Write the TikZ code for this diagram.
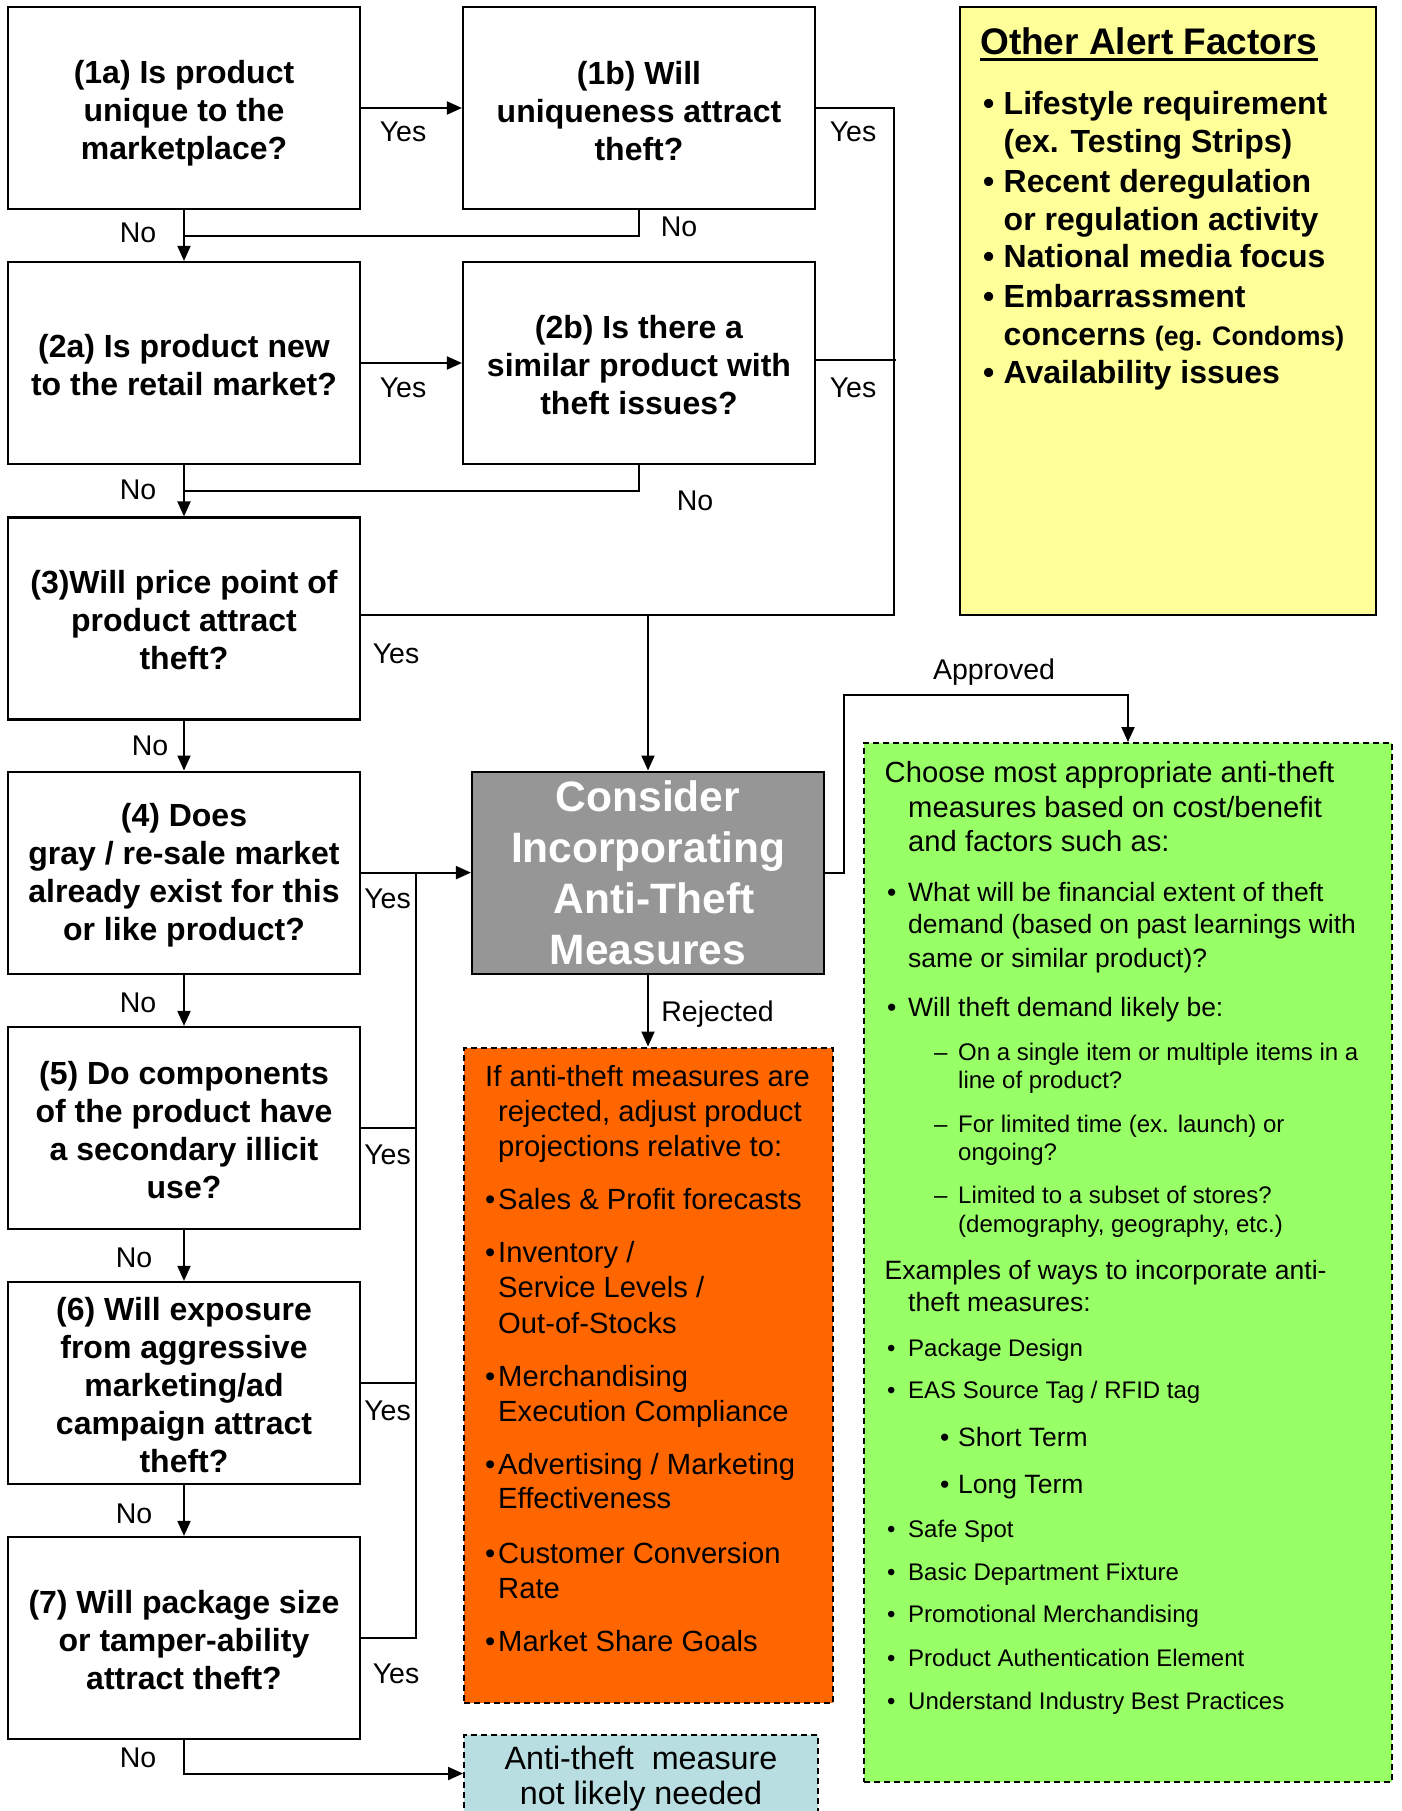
\documentclass[tikz,border=0pt]{standalone}
\usepackage{fontspec}
\setmainfont{Liberation Sans}
\usetikzlibrary{arrows.meta}
\definecolor{cgray}{RGB}{150,150,150}
\definecolor{corange}{RGB}{255,102,0}
\definecolor{cgreen}{RGB}{153,255,102}
\definecolor{cyel}{RGB}{255,255,153}
\definecolor{ccyan}{RGB}{184,222,226}
\begin{document}
\begin{tikzpicture}[x=1pt,y=-1pt,
  qbox/.style={draw, line width=2.2pt, fill=white, minimum width=352pt, minimum height=202pt, inner sep=0pt},
  qtxt/.style={inner sep=0pt, align=center, font=\fontsize{32}{38}\selectfont\bfseries},
  dbox/.style={draw, line width=2pt, dash pattern=on 6pt off 4pt, inner sep=0pt},
  lab/.style={font=\fontsize{28.5}{34}\selectfont, inner sep=0pt, text height=20pt, text depth=0pt},
  ln/.style={line width=2pt},
  arr/.style={ln, -{Triangle[length=15pt,width=13pt]}},
  tx/.style={anchor=west, inner sep=0pt, text depth=0pt},
  oT/.style={tx, font=\fontsize{29.2}{35}\selectfont, text height=19pt},
  gA/.style={tx, font=\fontsize{29.2}{35}\selectfont, text height=19pt},
  gB/.style={tx, font=\fontsize{26.5}{32}\selectfont, text height=17.3pt},
  gC/.style={tx, font=\fontsize{24}{29}\selectfont, text height=15.6pt},
  yT/.style={tx, font=\fontsize{32}{38}\selectfont\bfseries, text height=21pt}
]
\useasboundingbox (0,0) rectangle (1401,1811);
\fill[white] (0,0) rectangle (1401,1811);

% question boxes
\node[qbox] (b1a) at (184,108) {};
\node[qbox] (b1b) at (639,108) {};
\node[qbox] (b2a) at (184,363) {};
\node[qbox] (b2b) at (639,363) {};
\node[qbox] (b3) at (184,618.5) {};
\node[qbox] (b4) at (184,872.6) {};
\node[qbox] (b5) at (184,1128) {};
\node[qbox] (b6) at (184,1383) {};
\node[qbox] (b7) at (184,1638) {};
\node[qtxt] (t1a) at ([yshift=-5pt]b1a.center) {(1a) Is product\\unique to the\\marketplace?};
\node[qtxt] (t1b) at ([yshift=-3pt]b1b.center) {(1b) Will\\uniqueness attract\\theft?};
\node[qtxt] (t2a) at ([yshift=-2pt]b2a.center) {(2a) Is product new\\to the retail market?};
\node[qtxt] (t2b) at ([yshift=-2.5pt]b2b.center) {(2b) Is there a\\similar product with\\theft issues?};
\node[qtxt] (t3) at ([yshift=-2pt]b3.center) {(3)Will price point of\\product attract\\theft?};
\node[qtxt] (t4) at ([yshift=-3pt]b4.center) {(4) Does\\gray / re-sale market\\already exist for this\\or like product?};
\node[qtxt] (t5) at ([yshift=-2pt]b5.center) {(5) Do components\\of the product have\\a secondary illicit\\use?};
\node[qtxt] (t6) at ([yshift=-2.5pt]b6.center) {(6) Will exposure\\from aggressive\\marketing/ad\\campaign attract\\theft?};
\node[qtxt] (t7) at ([yshift=-2.5pt]b7.center) {(7) Will package size\\or tamper-ability\\attract theft?};

% consider box
\node[draw, line width=2.2pt, fill=cgray, text=white, minimum width=352pt, minimum height=202pt, inner sep=0pt, align=center, font=\fontsize{42.5}{51}\selectfont\bfseries] (cons) at (648,872.6) {Consider\\Incorporating\\\hspace*{12pt}Anti-Theft\\Measures};

% outcome boxes
\node[dbox, fill=corange, minimum width=369pt, minimum height=655pt] (reject) at (648.5,1375) {};
\node[dbox, fill=ccyan, minimum width=354pt, minimum height=115pt] (none) at (641,1792.5) {};
\node[dbox, fill=cgreen, minimum width=528pt, minimum height=1039pt] (choose) at (1128,1262.5) {};
\node[draw, line width=2pt, fill=cyel, minimum width=416pt, minimum height=607.5pt, inner sep=0pt] (alert) at (1168,310.75) {};

% cyan text
\node[align=center, inner sep=0pt, font=\fontsize{32.3}{35}\selectfont] (nonetxt) at (641,1779) {Anti-theft\ \ measure\\not likely needed};

% orange text
\node[oT] (o1) at (485,1077) {If anti-theft measures are};
\node[oT] (o2) at (498,1112) {rejected, adjust product};
\node[oT] (o3) at (498,1147) {projections relative to:};
\node[oT] (o4b) at (485,1200) {•};
\node[oT] (o4) at (498,1200) {Sales \& Profit forecasts};
\node[oT] (o5b) at (485,1253) {•};
\node[oT] (o5) at (498,1253) {Inventory /};
\node[oT] (o6) at (498,1288) {Service Levels /};
\node[oT] (o7) at (498,1324) {Out-of-Stocks};
\node[oT] (o8b) at (485,1377) {•};
\node[oT] (o8) at (498,1377) {Merchandising};
\node[oT] (o9) at (498,1411.5) {Execution Compliance};
\node[oT] (o10b) at (485,1464.5) {•};
\node[oT] (o10) at (498,1464.5) {Advertising / Marketing};
\node[oT] (o11) at (498,1499) {Effectiveness};
\node[oT] (o12b) at (485,1553.5) {•};
\node[oT] (o12) at (498,1553.5) {Customer Conversion};
\node[oT] (o13) at (498,1589) {Rate};
\node[oT] (o14b) at (485,1641.5) {•};
\node[oT] (o14) at (498,1641.5) {Market Share Goals};

% green text
\node[gA] (g1) at (884.5,772.5) {Choose most appropriate anti-theft};
\node[gA] (g2) at (908,807.5) {measures based on cost/benefit};
\node[gA] (g3) at (908,842) {and factors such as:};
\node[gB] (g4b) at (887,893) {•};
\node[gB] (g4) at (908,893) {What will be financial extent of theft};
\node[gB] (g5) at (908,925) {demand (based on past learnings with};
\node[gB] (g6) at (908,958.5) {same or similar product)?};
\node[gB] (g7b) at (887,1008) {•};
\node[gB] (g7) at (908,1008) {Will theft demand likely be:};
\node[gC] (g8b) at (934,1053) {–};
\node[gC] (g8) at (958,1053) {On a single item or multiple items in a};
\node[gC] (g9) at (958,1081) {line of product?};
\node[gC] (g10b) at (934,1124.5) {–};
\node[gC] (g10) at (958,1124.5) {For limited time (ex. launch) or};
\node[gC] (g11) at (958,1153) {ongoing?};
\node[gC] (g12b) at (934,1195.5) {–};
\node[gC] (g12) at (958,1195.5) {Limited to a subset of stores?};
\node[gC] (g13) at (958,1224.5) {(demography, geography, etc.)};
\node[gB] (g14) at (884.5,1270.5) {Examples of ways to incorporate anti-};
\node[gB] (g15) at (908,1302.5) {theft measures:};
\node[gC] (g16b) at (887,1348.5) {•};
\node[gC] (g16) at (908,1348.5) {Package Design};
\node[gC] (g17b) at (887,1391) {•};
\node[gC] (g17) at (908,1391) {EAS Source Tag / RFID tag};
\node[gB] (g18b) at (940,1437.5) {•};
\node[gB] (g18) at (958,1437.5) {Short Term};
\node[gB] (g19b) at (940,1485) {•};
\node[gB] (g19) at (958,1485) {Long Term};
\node[gC] (g20b) at (887,1530) {•};
\node[gC] (g20) at (908,1530) {Safe Spot};
\node[gC] (g21b) at (887,1572.5) {•};
\node[gC] (g21) at (908,1572.5) {Basic Department Fixture};
\node[gC] (g22b) at (887,1615) {•};
\node[gC] (g22) at (908,1615) {Promotional Merchandising};
\node[gC] (g23b) at (887,1658.5) {•};
\node[gC] (g23) at (908,1658.5) {Product Authentication Element};
\node[gC] (g24b) at (887,1701.5) {•};
\node[gC] (g24) at (908,1701.5) {Understand Industry Best Practices};

% yellow text
\node[tx, font=\fontsize{37}{44}\selectfont\bfseries, text height=24pt] (yt) at (980,43) {Other Alert Factors};
\draw[line width=2.5pt] ([yshift=-4.3pt]yt.base west) -- ([yshift=-4.3pt]yt.base east);
\node[yT] (y1b) at (983,104.5) {•};
\node[yT] (y1) at (1003.5,104.5) {Lifestyle requirement};
\node[yT] (y2) at (1003.5,142.5) {(ex. Testing Strips)};
\node[yT] (y3b) at (983,182) {•};
\node[yT] (y3) at (1003.5,182) {Recent deregulation};
\node[yT] (y4) at (1003.5,220) {or regulation activity};
\node[yT] (y5b) at (983,257.5) {•};
\node[yT] (y5) at (1003.5,257.5) {National media focus};
\node[yT] (y6b) at (983,296.5) {•};
\node[yT] (y6) at (1003.5,296.5) {Embarrassment};
\node[yT] (y7) at (1003.5,335) {concerns {\fontsize{26.7}{32}\selectfont (eg. Condoms)}};
\node[yT] (y8b) at (983,373) {•};
\node[yT] (y8) at (1003.5,373) {Availability issues};

% connectors
\coordinate (tr1) at (894,108);
\coordinate (tr3) at (894,614.6);
\coordinate (n1) at (184,235.6);
\coordinate (n2) at (184,491);
\coordinate (cl) at (416,872.6);
\coordinate (a1) at (844,694.6);
\coordinate (c7) at (184,1773.5);

\draw[arr] (b1a.east) -- (b1b.west);
\draw[arr] (b2a.east) -- (b2b.west);
\draw[arr] (b1a.south) -- (b2a.north);
\draw[arr] (b2a.south) -- (b3.north);
\draw[arr] (b3.south) -- (b4.north);
\draw[arr] (b4.south) -- (b5.north);
\draw[arr] (b5.south) -- (b6.north);
\draw[arr] (b6.south) -- (b7.north);
\draw[ln] (b1b.south) -- (b1b.south |- n1) -- (n1);
\draw[ln] (b2b.south) -- (b2b.south |- n2) -- (n2);
\draw[ln] (b1b.east) -- (tr1) -- (tr3) -- (b3.east |- tr3);
\draw[ln] ([yshift=3pt]b2b.east) -- ([yshift=3pt,xshift=2pt]b2b.east -| tr1);
\draw[arr] (cons.north |- tr3) -- (cons.north);
\draw[arr] (b4.east) -- (cons.west);
\draw[ln] (b7.east) -- (b7.east -| cl) -- (cl);
\draw[ln] (b5.east) -- (b5.east -| cl);
\draw[ln] (b6.east) -- (b6.east -| cl);
\draw[arr] (cons.east) -- (cons.east -| a1) -- (a1) -- (a1 -| choose.north) -- (choose.north);
\draw[arr] (cons.south) -- (cons.south |- reject.north);
\draw[arr] (b7.south) -- (c7) -- (c7 -| none.west);

% labels
\node[lab] (l1) at (403,132) {Yes};
\node[lab] (l2) at (853,132) {Yes};
\node[lab] (l3) at (138,233) {No};
\node[lab] (l4) at (679,227) {No};
\node[lab] (l5) at (403,387) {Yes};
\node[lab] (l6) at (853,387) {Yes};
\node[lab] (l7) at (138,489) {No};
\node[lab] (l8) at (695,500) {No};
\node[lab] (l9) at (396,653.6) {Yes};
\node[lab] (l10) at (150,745.7) {No};
\node[lab] (l11) at (387.5,898) {Yes};
\node[lab] (l12) at (138,1002) {No};
\node[lab] (l13) at (387.5,1154) {Yes};
\node[lab] (l14) at (134,1257) {No};
\node[lab] (l15) at (387.5,1410) {Yes};
\node[lab] (l16) at (134,1513) {No};
\node[lab] (l17) at (396,1673) {Yes};
\node[lab] (l18) at (138,1757) {No};
\node[lab] (l19) at (994,669) {Approved};
\node[lab] (l20) at (717.6,1011) {Rejected};
\end{tikzpicture}
\end{document}
